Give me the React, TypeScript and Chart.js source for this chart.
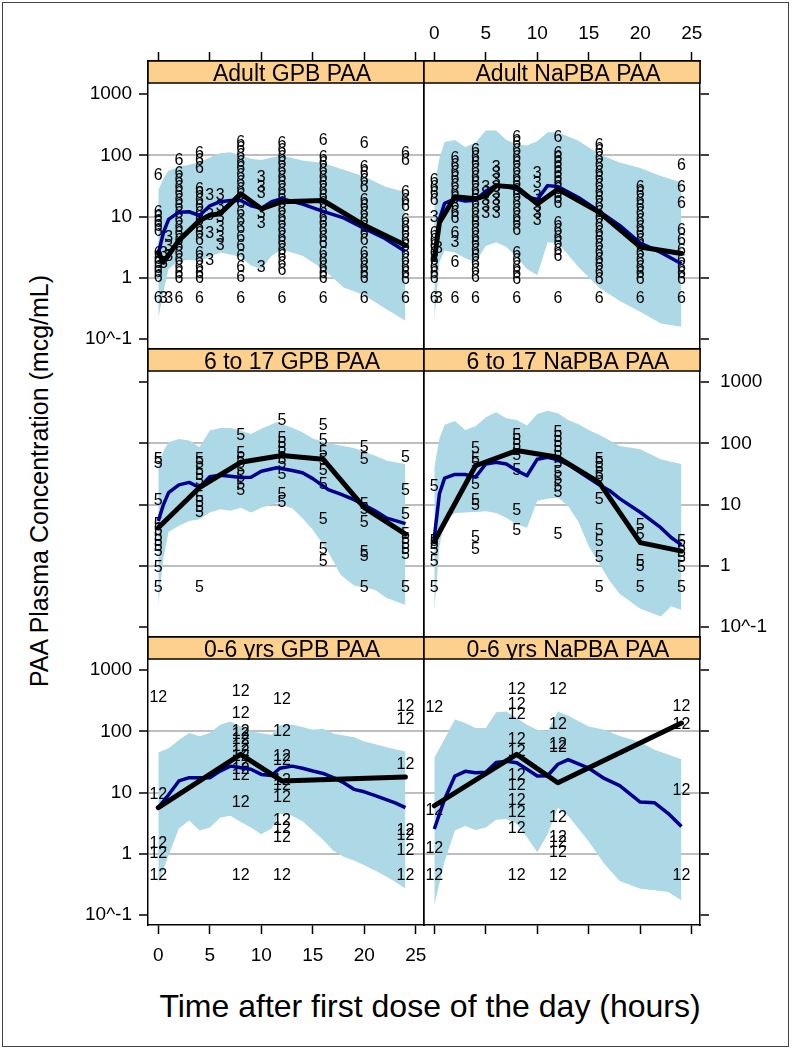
import React, { useEffect, useRef } from 'react';
import { Chart, registerables } from 'chart.js';

Chart.register(...registerables);

// ---------- axes ----------
const xTickValues = [0, 5, 10, 15, 20, 25];
const yTickValues = [0.1, 1, 10, 100, 1000];
const yTickLabels = ['10^-1', '1', '10', '100', '1000'];
const gridValues = [1, 10, 100];

// ---------- Adult GPB PAA ----------
const bandTimesAdultGpb = [0, 0.5, 1, 2, 3, 4, 5, 6, 7, 8, 9, 10, 11, 12, 14, 16, 18, 20, 22, 24];
const bandHiAdultGpb = [27, 42, 56, 65, 70, 77, 92, 108, 112, 99, 88, 84, 92, 99, 82, 75, 58, 45, 31, 25];
const bandLoAdultGpb = [0.22, 0.6, 1.4, 1.9, 1.95, 1.9, 2.2, 2.6, 2.4, 2.2, 1.6, 1.4, 2.3, 2.9, 2.3, 1.4, 0.7, 0.52, 0.32, 0.2];
const predMedAdultGpb = [2.5, 5.5, 9, 11.8, 12, 10.4, 15, 17.5, 18.3, 18.3, 15, 13.6, 17.5, 19.5, 16, 12.2, 9.5, 6.4, 4.4, 2.7];
const obsTimesAdultGpb = [0, 0.5, 2, 4, 5, 6, 8, 10, 12, 16, 20, 24];
const obsMedAdultGpb = [2.6, 1.8, 4.1, 8.6, 10.5, 11.1, 23.5, 13.4, 17.5, 18.3, 7.2, 3.4];
const obs6AdultGpb: [number, number[]][] = [
  [0, [47, 11.7, 9.8, 8.1, 6.8, 5.6, 2.5, 2.0, 1.7, 1.4, 1.2, 1.0, 0.46]],
  [2, [82, 50, 39, 30, 23.5, 18.3, 14.3, 11.1, 8.6, 6.7, 5.2, 4.1, 3.2, 2.5, 1.9, 1.5, 1.16, 0.97, 0.46]],
  [4, [106, 82, 60, 28, 23.5, 18.3, 14.3, 11.1, 8.6, 6.7, 5.2, 4.1, 2.5, 1.9, 1.5, 1.16, 0.97, 0.46]],
  [8, [164, 128, 99, 77, 60, 47, 36, 28, 22, 16.1, 11.8, 8.6, 6.3, 4.6, 3.2, 2.2, 1.5, 1.03, 0.46]],
  [12, [154, 120, 93, 73, 56, 44, 34, 27, 21, 16.1, 12.6, 9.8, 7.6, 5.9, 4.6, 3.6, 2.8, 2.2, 1.7, 1.3, 0.46]],
  [16, [174, 93, 73, 56, 44, 34, 27, 21, 16.1, 12.6, 9.8, 7.6, 5.9, 4.6, 3.6, 2.5, 1.9, 1.5, 1.16, 0.97, 0.46]],
  [20, [154, 64, 50, 39, 30, 18.3, 14.3, 11.1, 8.6, 6.7, 5.2, 4.1, 2.5, 1.9, 1.5, 1.16, 0.97, 0.46]],
  [24, [106, 82, 25, 18.3, 14.3, 8.6, 6.7, 5.2, 4.1, 3.2, 2.5, 1.9, 1.5, 1.16, 0.95, 0.46]],
];
const obs3AdultGpb: [number, number[]][] = [
  [0.5, [2.5, 1.7, 0.46]],
  [1, [4.6, 3.2, 2.2, 0.46]],
  [5, [22, 10.4, 5.2, 1.9]],
  [6, [22, 14.3, 9.8, 6.7, 4.6, 3.4]],
  [10, [44, 30, 23.5, 11.1, 7.6, 1.5]],
];

// ---------- Adult NaPBA PAA ----------
const bandTimesAdultNapba = [0, 0.5, 1, 2, 3, 4, 5, 6, 7, 8, 9, 10, 11, 12, 14, 16, 18, 20, 22, 24];
const bandHiAdultNapba = [30, 90, 165, 178, 136, 160, 254, 254, 178, 150, 145, 170, 238, 238, 172, 104, 76, 62, 46, 36];
const bandLoAdultNapba = [0.2, 1.8, 2.8, 2.6, 2.1, 1.8, 3.3, 3.8, 3.2, 2.2, 1.4, 1.1, 3.8, 3.7, 1.5, 0.7, 0.42, 0.28, 0.18, 0.16];
const predMedAdultNapba = [1.9, 9, 16.5, 19.5, 18, 18.5, 26, 32, 31, 28, 21, 19, 32, 31, 20.5, 12.2, 7.2, 3.7, 2.6, 1.7];
const obsTimesAdultNapba = [0, 0.5, 2, 4, 5, 6, 8, 10, 12, 16, 20, 24];
const obsMedAdultNapba = [2.0, 8, 21, 19.5, 22, 32, 30, 16.1, 28, 11.8, 3.2, 2.5];
const obs6AdultNapba: [number, number[]][] = [
  [0, [39, 30, 23.5, 18.3, 5.2, 4.1, 3.2, 2.5, 1.9, 1.5, 1.16, 0.97, 0.46]],
  [2, [87.5, 68, 53, 41, 32, 25, 19.5, 15.2, 11.8, 9.2, 5.2, 1.8, 0.46]],
  [4, [120, 93, 73, 56, 44, 34, 27, 21, 16.1, 12.6, 9.8, 7.6, 5.9, 4.6, 3.6, 2.8, 2.2, 1.7, 1.3, 1.03, 0.46]],
  [8, [198, 154, 120, 93, 73, 56, 44, 34, 27, 21, 16.1, 12.6, 9.8, 7.6, 5.9, 2.5, 1.9, 1.5, 1.16, 0.95, 0.46]],
  [12, [198, 106, 87.5, 73, 60, 50, 41, 34, 28, 23.5, 19.5, 16.1, 7.6, 5.9, 4.6, 3.6, 2.8, 2.2, 0.46]],
  [16, [145, 113, 87.5, 68, 53, 41, 32, 25, 19.5, 15.2, 11.8, 9.2, 7.1, 5.5, 4.3, 3.4, 2.6, 2.0, 1.6, 1.24, 0.95, 0.46]],
  [20, [30, 23.5, 18.3, 14.3, 11.1, 8.6, 6.7, 5.2, 4.1, 3.2, 2.5, 1.9, 1.5, 1.16, 0.95, 0.46]],
  [24, [68, 30, 16.1, 5.9, 4.1, 2.8, 1.9, 1.5, 1.16, 0.95, 0.46]],
];
const obs3AdultNapba: [number, number[]][] = [
  [0, [9.8]],
  [0.4, [3.0, 0.46]],
  [2, [3.8]],
  [5, [30, 23.5, 18.3, 14.3, 11.1]],
  [6, [64, 50, 39, 30, 23.5, 18.3, 14.3, 11.1]],
  [10, [50, 34, 21, 14.3, 11.1, 8.6]],
];

// ---------- 6 to 17 GPB PAA ----------
const bandTimesTeenGpb = [0, 0.5, 1, 2, 3, 4, 5, 6, 7, 8, 9, 10, 11.5, 13, 14, 15, 16.5, 17.7, 19, 21, 22.2, 24];
const bandHiTeenGpb = [46, 75, 104, 118, 111, 86, 161, 178, 178, 161, 142, 172, 221, 180, 152, 120, 100, 92, 84, 63, 52, 46];
const bandLoTeenGpb = [0.23, 1.35, 3.6, 4.5, 5.4, 5.75, 7.4, 8.4, 7.9, 8.9, 7.4, 8.9, 10.5, 8.7, 6, 3.9, 1.7, 0.72, 0.48, 0.41, 0.3, 0.23];
const predMedTeenGpb = [5.4, 10, 15.7, 21, 23, 19, 28.5, 30, 29, 27.7, 28, 35, 40, 36, 33, 26.5, 17.5, 14.8, 12, 8, 6, 4.9];
const obsTimesTeenGpb = [0, 4, 8, 12, 16, 20, 24];
const obsMedTeenGpb = [4.2, 19, 49, 63, 55, 8.9, 3.3];
const obs5TeenGpb: [number, number[]][] = [
  [0, [55, 46, 11.5, 4.8, 3.7, 3.06, 2.5, 2.1, 1.74, 0.93, 0.44]],
  [4, [55, 46, 35.6, 29.5, 24.4, 13, 10.8, 8.9, 7.4, 0.44]],
  [8, [134, 67, 55, 46, 35.6, 27.7, 21.5, 16.7]],
  [12, [235, 118, 97.5, 81, 67, 55, 46, 31.4, 14.8, 10.8]],
  [16, [195, 111, 71, 52, 35.6, 21.5, 5.75, 1.85, 1.19]],
  [20, [86, 55, 10.1, 8.4, 5.1, 1.63, 1.44, 0.44]],
  [24, [59, 16.7, 6.95, 3.26, 2.7, 2.24, 1.85, 1.53, 0.44]],
];

// ---------- 6 to 17 NaPBA PAA ----------
const bandTimesTeenNapba = [0, 0.5, 1, 2, 3, 4, 5, 6, 7, 8, 9, 10, 11, 12, 13, 14, 15, 16, 17, 18, 20, 22, 23, 24];
const bandHiTeenNapba = [40, 120, 200, 230, 165, 190, 265, 320, 255, 240, 195, 300, 340, 310, 240, 205, 165, 138, 112, 90, 80, 55, 50, 46];
const bandLoTeenNapba = [0.18, 2.1, 5.5, 7.3, 7.4, 7.6, 7.8, 7.3, 6.1, 4.8, 4.2, 11.5, 12.5, 13, 9.5, 5.2, 2.1, 1.1, 0.58, 0.35, 0.2, 0.15, 0.22, 0.19];
const predMedTeenNapba = [2.9, 15, 27, 31, 31, 28, 46, 49, 46, 36, 29.5, 55, 59, 54, 45, 35, 27, 21, 17, 12.5, 7.5, 4.2, 2.9, 2.2];
const obsTimesTeenNapba = [0, 4, 8, 12, 16, 20, 24];
const obsMedTeenNapba = [2.5, 43, 76, 59, 23, 2.4, 1.74];
const obs5TeenNapba: [number, number[]][] = [
  [0, [20, 2.5, 2.24, 1.85, 1.19, 0.44]],
  [4, [81, 55, 46, 21.5, 11.5, 9.5, 2.9, 1.85]],
  [8, [134, 111, 92, 76, 63, 35.6, 7.9, 3.7]],
  [12, [151, 125, 104, 86, 71, 59, 46, 33.5, 26, 20, 15.7, 3.26]],
  [16, [55, 46, 38, 31.4, 27.7, 12.2, 3.7, 2.5, 1.35, 0.44]],
  [20, [4.5, 3.26, 1.19, 0.99, 0.44]],
  [24, [2.5, 1.97, 1.63, 1.35, 0.93, 0.44]],
];

// ---------- 0-6 yrs GPB PAA ----------
const bandTimesChildGpb = [0, 1, 2, 3, 4, 5, 6, 7, 8, 9, 10, 11, 11.8, 13, 14, 15, 16, 17, 18, 19, 20, 21, 22, 23, 24];
const bandHiChildGpb = [45, 53, 72, 94, 83, 94, 128, 145, 120, 100, 93, 88, 125, 128, 118, 106, 110, 92, 85, 80, 68, 62, 56, 51, 47];
const bandLoChildGpb = [0.33, 0.95, 2.6, 3.5, 2.4, 2.7, 3.9, 4.2, 3.3, 2.7, 2.1, 2.6, 4.5, 4.2, 3.4, 2.4, 1.7, 1.13, 0.9, 0.78, 0.65, 0.54, 0.44, 0.35, 0.27];
const predMedChildGpb = [5.7, 9.2, 15.5, 17.5, 17.5, 17.5, 22.4, 27, 25.5, 24, 19.8, 19, 25, 27, 25, 22.5, 20.5, 17.5, 14.5, 11.3, 10.3, 9, 7.8, 6.8, 5.7];
const obsTimesChildGpb = [0, 8, 12, 24];
const obsMedChildGpb = [5.7, 42, 15.5, 18];
const obs12ChildGpb: [number, number[]][] = [
  [0, [348, 9.4, 1.45, 1.0, 0.45]],
  [8, [446, 198, 100, 88, 73, 57, 47, 39, 30.7, 24, 18.6, 6.9, 0.45]],
  [12, [327, 100, 39, 32.7, 15.5, 12.8, 8.3, 3.5, 2.55, 1.86, 0.45]],
  [24, [255, 155, 28.8, 2.4, 1.99, 1.13, 0.45]],
];

// ---------- 0-6 yrs NaPBA PAA ----------
const bandTimesChildNapba = [0, 1, 2, 3, 4, 5, 6, 7, 8, 9, 10, 11, 12, 13, 15, 16.5, 18, 20, 21.4, 22.7, 24];
const bandHiChildNapba = [37, 75, 155, 136, 113, 113, 205, 211, 165, 128, 106, 100, 211, 180, 120, 106, 84, 67, 50, 42, 35];
const bandLoChildNapba = [0.145, 0.75, 2.4, 2.85, 2.45, 2.7, 3.6, 3.7, 3.1, 1.87, 1.06, 2.1, 5.7, 4.2, 1.6, 0.69, 0.36, 0.27, 0.255, 0.24, 0.175];
const predMedChildNapba = [2.55, 7.8, 18.6, 22.2, 21, 21.5, 31, 32.5, 30.7, 24, 18.6, 18.8, 29, 34.5, 25, 17, 13, 7, 6.8, 4.6, 2.8];
const obsTimesChildNapba = [0, 8, 12, 24];
const obsMedChildNapba = [6.1, 42, 14.5, 136];
const obs12ChildNapba: [number, number[]][] = [
  [0, [239, 5.05, 1.2, 0.45]],
  [8, [474, 271, 186, 73, 47, 18.6, 12.8, 7.3, 4.7, 2.55, 0.45]],
  [12, [474, 128, 61, 53.7, 3.9, 1.87, 1.55, 1.06, 0.45]],
  [24, [255, 128, 10.6, 0.45]],
];

// ---------- layout ----------
const COL_LEFT = [148, 424];
const ROW_TOP = [61, 349, 637];
const PANEL_W = 276;
const PANEL_H = 288;
const STRIP_H = 22;
const AX = 80;
const AY = 50;
const X_MIN = -1.0;
const X_MAX = 25.8;
const Y_MIN = 0.0692;
const Y_MAX = 3451;
const FONT = '"Liberation Sans", Arial, Helvetica, sans-serif';

const panels = [
  { title: 'Adult GPB PAA', row: 0, col: 0, bandT: bandTimesAdultGpb, hi: bandHiAdultGpb, lo: bandLoAdultGpb, med: predMedAdultGpb, obsT: obsTimesAdultGpb, obs: obsMedAdultGpb, markers: [{ text: '6', groups: obs6AdultGpb }, { text: '3', groups: obs3AdultGpb }] },
  { title: 'Adult NaPBA PAA', row: 0, col: 1, bandT: bandTimesAdultNapba, hi: bandHiAdultNapba, lo: bandLoAdultNapba, med: predMedAdultNapba, obsT: obsTimesAdultNapba, obs: obsMedAdultNapba, markers: [{ text: '6', groups: obs6AdultNapba }, { text: '3', groups: obs3AdultNapba }] },
  { title: '6 to 17 GPB PAA', row: 1, col: 0, bandT: bandTimesTeenGpb, hi: bandHiTeenGpb, lo: bandLoTeenGpb, med: predMedTeenGpb, obsT: obsTimesTeenGpb, obs: obsMedTeenGpb, markers: [{ text: '5', groups: obs5TeenGpb }] },
  { title: '6 to 17 NaPBA PAA', row: 1, col: 1, bandT: bandTimesTeenNapba, hi: bandHiTeenNapba, lo: bandLoTeenNapba, med: predMedTeenNapba, obsT: obsTimesTeenNapba, obs: obsMedTeenNapba, markers: [{ text: '5', groups: obs5TeenNapba }] },
  { title: '0-6 yrs GPB PAA', row: 2, col: 0, bandT: bandTimesChildGpb, hi: bandHiChildGpb, lo: bandLoChildGpb, med: predMedChildGpb, obsT: obsTimesChildGpb, obs: obsMedChildGpb, markers: [{ text: '12', groups: obs12ChildGpb }] },
  { title: '0-6 yrs NaPBA PAA', row: 2, col: 1, bandT: bandTimesChildNapba, hi: bandHiChildNapba, lo: bandLoChildNapba, med: predMedChildNapba, obsT: obsTimesChildNapba, obs: obsMedChildNapba, markers: [{ text: '12', groups: obs12ChildNapba }] },
];

const markerPlugin = {
  id: 'markerText',
  afterDatasetDraw(chart: any, args: any) {
    const ds = chart.data.datasets[args.index];
    if (!ds || !ds.markerText) return;
    const ctx = chart.ctx;
    ctx.save();
    ctx.font = `16px ${FONT}`;
    ctx.fillStyle = '#000';
    ctx.textAlign = 'center';
    ctx.textBaseline = 'middle';
    args.meta.data.forEach((el: any) => ctx.fillText(ds.markerText, el.x, el.y));
    ctx.restore();
  },
};

const stripPlugin = {
  id: 'strip',
  afterDraw(chart: any, _args: any, opts: any) {
    const { ctx, chartArea } = chart;
    const l = chartArea.left;
    const r = chartArea.right;
    const t = chartArea.top;
    ctx.save();
    ctx.fillStyle = '#FDD08E';
    ctx.fillRect(l, t, r - l, STRIP_H);
    ctx.beginPath();
    ctx.rect(l, t, r - l, STRIP_H + 1);
    ctx.clip();
    ctx.fillStyle = '#000';
    ctx.font = `23px ${FONT}`;
    ctx.textAlign = 'center';
    ctx.textBaseline = 'alphabetic';
    ctx.fillText(opts.text, (l + r) / 2 + 6, t + STRIP_H - 2);
    ctx.restore();
    ctx.save();
    ctx.strokeStyle = '#000';
    ctx.lineWidth = 1.5;
    ctx.strokeRect(l, t, r - l, STRIP_H);
    ctx.restore();
  },
};

function buildConfig(p: any) {
  const tickFont = { family: FONT, size: 19 };
  const leftTicks = p.col === 0;
  const leftLabels = p.col === 0 && p.row !== 1;
  const rightTicks = p.col === 1;
  const rightLabels = p.col === 1 && p.row === 1;
  const topTicks = p.row === 0;
  const topLabels = p.row === 0 && p.col === 1;
  const bottomTicks = p.row === 2;
  const bottomLabels = p.row === 2 && p.col === 0;
  const border = { display: true, color: '#000', width: 1.5 };

  const xAxis = (pos: string, drawTicks: boolean, labels: boolean, pad: number) => ({
    type: 'linear',
    position: pos,
    min: X_MIN,
    max: X_MAX,
    bounds: 'data',
    afterBuildTicks: (s: any) => { s.ticks = xTickValues.map((v) => ({ value: v })); },
    afterFit: (s: any) => { s.height = AY; },
    grid: { drawOnChartArea: false, drawTicks, tickLength: 9, tickColor: '#000', tickWidth: 1.5 },
    border,
    ticks: { display: labels, font: tickFont, color: '#000', padding: pad, maxRotation: 0, autoSkip: false, callback: (v: any) => String(v) },
  });
  const yAxis = (pos: string, drawTicks: boolean, labels: boolean, pad: number, onArea: boolean) => ({
    type: 'logarithmic',
    position: pos,
    min: Y_MIN,
    max: Y_MAX,
    bounds: 'data',
    z: 1,
    afterBuildTicks: (s: any) => { s.ticks = yTickValues.map((v) => ({ value: v })); },
    afterFit: (s: any) => { s.width = AX; },
    grid: {
      drawOnChartArea: onArea,
      color: (c: any) => (c.tick && gridValues.includes(c.tick.value) ? '#BEBEBE' : 'rgba(0,0,0,0)'),
      lineWidth: 2,
      drawTicks,
      tickLength: 9,
      tickColor: '#000',
      tickWidth: 1.5,
    },
    border,
    ticks: {
      display: labels,
      font: tickFont,
      color: '#000',
      padding: pad,
      autoSkip: false,
      callback: (v: any) => {
        const i = yTickValues.indexOf(v);
        return i >= 0 ? yTickLabels[i] : '';
      },
    },
  });

  const markerSets = p.markers.map((m: any) => ({
    type: 'line',
    markerText: m.text,
    data: m.groups.flatMap(([t, vals]: [number, number[]]) => vals.map((v) => ({ x: t, y: v }))),
    showLine: false,
    pointRadius: 0,
    pointHoverRadius: 0,
    fill: false,
  }));

  return {
    type: 'line',
    data: {
      datasets: [
        {
          data: p.obsT.map((t: number, i: number) => ({ x: t, y: p.obs[i] })),
          borderColor: '#000',
          borderWidth: 5,
          pointRadius: 0,
          fill: false,
          borderJoinStyle: 'round',
          borderCapStyle: 'round',
        },
        {
          data: p.bandT.map((t: number, i: number) => ({ x: t, y: p.med[i] })),
          borderColor: '#00008B',
          borderWidth: 3.5,
          pointRadius: 0,
          fill: false,
          borderJoinStyle: 'round',
        },
        ...markerSets,
        {
          data: p.bandT.map((t: number, i: number) => ({ x: t, y: p.hi[i] })),
          borderWidth: 0,
          borderColor: 'rgba(0,0,0,0)',
          backgroundColor: '#ADD8E6',
          pointRadius: 0,
          fill: '+1',
        },
        {
          data: p.bandT.map((t: number, i: number) => ({ x: t, y: p.lo[i] })),
          borderWidth: 0,
          borderColor: 'rgba(0,0,0,0)',
          pointRadius: 0,
          fill: false,
        },
      ],
    },
    options: {
      responsive: false,
      maintainAspectRatio: false,
      devicePixelRatio: 1,
      animation: false,
      events: [],
      layout: { padding: 0 },
      elements: { line: { tension: 0 } },
      plugins: {
        legend: { display: false },
        tooltip: { enabled: false },
        strip: { text: p.title },
      },
      scales: {
        x: xAxis('bottom', bottomTicks, bottomLabels, 10),
        xt: xAxis('top', topTicks, topLabels, 7),
        y: yAxis('left', leftTicks, leftLabels, 7, true),
        yr: yAxis('right', rightTicks, rightLabels, 11, false),
      },
    },
    plugins: [markerPlugin, stripPlugin],
  };
}

function Panel({ p }: { p: any }) {
  const ref = useRef<HTMLCanvasElement | null>(null);
  useEffect(() => {
    if (!ref.current) return;
    const chart = new Chart(ref.current, buildConfig(p) as any);
    return () => chart.destroy();
  }, [p]);
  const w = PANEL_W + 2 * AX;
  const h = PANEL_H + 2 * AY;
  return (
    <canvas
      ref={ref}
      width={w}
      height={h}
      style={{ position: 'absolute', left: COL_LEFT[p.col] - AX, top: ROW_TOP[p.row] - AY, width: w, height: h }}
    />
  );
}

export default function App() {
  return (
    <div style={{ position: 'absolute', left: 0, top: 0, width: 793, height: 1050, background: '#fff', fontFamily: FONT, overflow: 'hidden' }}>
      <div style={{ position: 'absolute', left: 2, top: 2, width: 785, height: 1043, border: '1px solid #444' }} />
      {panels.map((p) => (
        <Panel key={p.title} p={p} />
      ))}
      <div
        style={{
          position: 'absolute',
          left: 39,
          top: 481,
          transform: 'translate(-50%, -50%) rotate(-90deg)',
          whiteSpace: 'nowrap',
          fontSize: 25,
          lineHeight: 1,
          color: '#000',
        }}
      >
        PAA Plasma Concentration (mcg/mL)
      </div>
      <div
        style={{
          position: 'absolute',
          left: 430,
          top: 1006,
          transform: 'translate(-50%, -50%)',
          whiteSpace: 'nowrap',
          fontSize: 32,
          lineHeight: 1,
          color: '#000',
        }}
      >
        Time after first dose of the day (hours)
      </div>
    </div>
  );
}
